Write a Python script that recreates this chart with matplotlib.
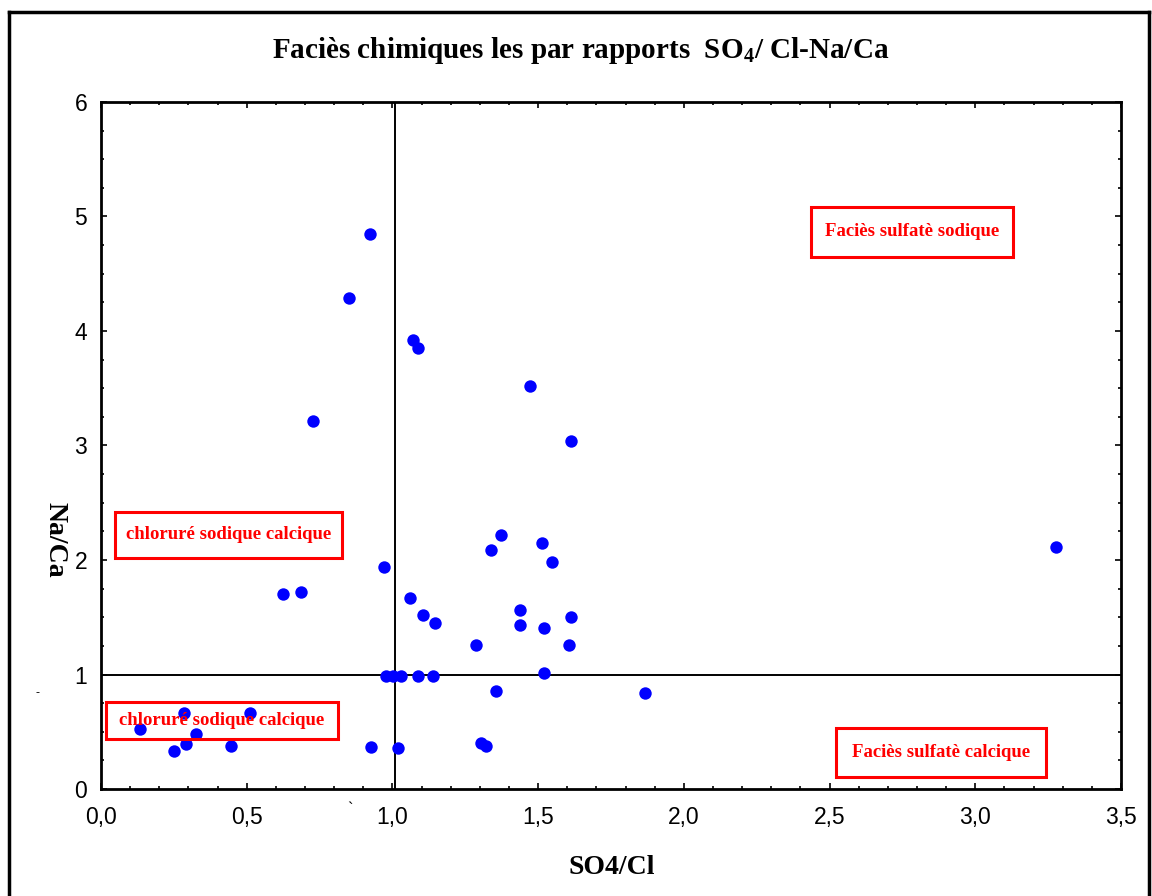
import matplotlib
matplotlib.use("Agg")
import matplotlib.pyplot as plt
from matplotlib.patches import Rectangle
from matplotlib.lines import Line2D
from matplotlib.ticker import MultipleLocator

plt.rcParams["mathtext.fontset"] = "custom"
plt.rcParams["mathtext.rm"] = "Liberation Serif:bold"
plt.rcParams["mathtext.bf"] = "Liberation Serif:bold"

# data
so4_cl = [0.923, 0.851, 1.071, 1.088, 1.472, 0.728, 1.613,
          1.372, 1.338, 1.513, 1.548, 3.277, 0.970,
          0.625, 0.686, 1.061, 1.104, 1.146, 1.438, 1.438, 1.521, 1.614,
          1.288, 1.605, 1.521, 1.356, 1.865,
          0.978, 1.003, 1.030, 1.087, 1.138,
          0.928, 1.020, 1.305, 1.321,
          0.134, 0.285, 0.326, 0.292, 0.251, 0.446, 0.511]
na_ca = [4.85, 4.29, 3.92, 3.85, 3.52, 3.21, 3.04,
         2.22, 2.09, 2.15, 1.98, 2.11, 1.94,
         1.70, 1.72, 1.67, 1.52, 1.45, 1.56, 1.43, 1.41, 1.50,
         1.255, 1.255, 1.016, 0.86, 0.836,
         0.99, 0.99, 0.99, 0.99, 0.99,
         0.37, 0.355, 0.40, 0.375,
         0.52, 0.66, 0.48, 0.39, 0.33, 0.375, 0.66]

x_ticks = [0.0, 0.5, 1.0, 1.5, 2.0, 2.5, 3.0, 3.5]
x_tick_labels = ["0,0", "0,5", "1,0", "1,5", "2,0", "2,5", "3,0", "3,5"]
y_ticks = [0, 1, 2, 3, 4, 5, 6]
y_tick_labels = ["0", "1", "2", "3", "4", "5", "6"]

# facies boxes: label, x0, x1, y0, y1
facies = [
    ("Faciès sulfatè sodique", 2.437, 3.130, 4.646, 5.083),
    ("Faciès sulfatè calcique", 2.522, 3.243, 0.105, 0.533),
    ("chloruré sodique calcique", 0.048, 0.827, 2.02, 2.42),
    ("chloruré sodique calcique", 0.017, 0.813, 0.437, 0.76),
]

fig = plt.figure(figsize=(11.52, 8.96), dpi=100)
ax = fig.add_axes([0.0877, 0.1194, 0.8854, 0.7668])

ax.scatter(so4_cl, na_ca, s=80, color="#0000ff", zorder=3, linewidths=0)

ax.axhline(1.0, color="black", lw=1.4, zorder=2)
ax.axvline(1.01, color="black", lw=1.4, zorder=2)

for label, x0, x1, y0, y1 in facies:
    ax.add_patch(Rectangle((x0, y0), x1 - x0, y1 - y0, fill=False,
                           edgecolor="#ff0000", lw=2.2, zorder=4))
    ax.text((x0 + x1) / 2, (y0 + y1) / 2, label, color="#ff0000",
            fontsize=13.5, fontweight="bold", family="Liberation Serif",
            ha="center", va="center", zorder=5)

ax.set_xlim(0, 3.5)
ax.set_ylim(0, 6)
ax.set_xticks(x_ticks)
ax.set_xticklabels(x_tick_labels, family="Liberation Sans", fontsize=16.5)
ax.set_yticks(y_ticks)
ax.set_yticklabels(y_tick_labels, family="Liberation Sans", fontsize=16.5)
ax.xaxis.set_minor_locator(MultipleLocator(0.1))
ax.yaxis.set_minor_locator(MultipleLocator(0.25))
ax.tick_params(which="both", direction="in", top=True, right=True, width=1.2)
ax.tick_params(which="major", length=4)
ax.tick_params(which="minor", length=2)
ax.tick_params(axis="x", which="major", pad=12)
ax.tick_params(axis="y", which="major", pad=10)
for sp in ax.spines.values():
    sp.set_linewidth(2)

fig.text(612 / 1152, 1 - 867 / 896, "SO4/Cl", family="Liberation Serif",
         fontweight="bold", fontsize=20, ha="center", va="center")
fig.text(55 / 1152, 1 - 540 / 896, "Na/Ca", family="Liberation Serif",
         fontweight="bold", fontsize=20, ha="center", va="center", rotation=270)

fig.text(581 / 1152, 1 - 50 / 896,
         r"Faciès chimiques les par rapports  SO$_{4}$/ Cl-Na/Ca",
         family="Liberation Serif", fontweight="bold", fontsize=21,
         ha="center", va="center")

# stray marks from the original
fig.text(350 / 1152, 1 - 810 / 896, "`", fontsize=12, family="Liberation Sans",
         ha="center", va="center")
fig.text(38 / 1152, 1 - 693 / 896, "-", fontsize=9, family="Liberation Sans",
         ha="center", va="center")

# outer frame
for xs, ys in [([9 / 1152, 9 / 1152], [0, 1 - 12 / 896]),
               ([9 / 1152, 1149 / 1152], [1 - 12 / 896, 1 - 12 / 896]),
               ([1149 / 1152, 1149 / 1152], [0, 1 - 12 / 896])]:
    fig.add_artist(Line2D(xs, ys, color="black", lw=2.5))

fig.savefig("out.png", dpi=100)
